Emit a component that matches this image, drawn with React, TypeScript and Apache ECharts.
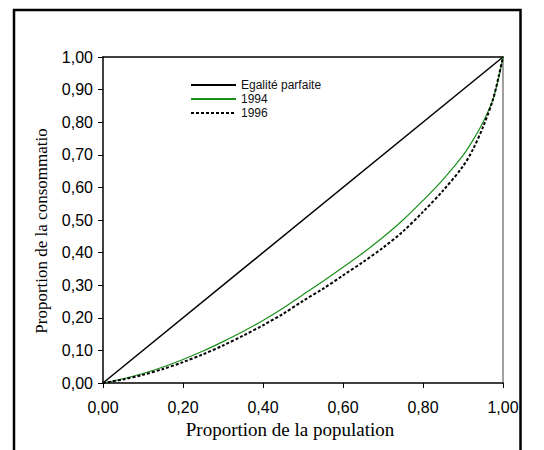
import React, { useEffect, useRef } from "react";
import * as echarts from "echarts";

// Cumulative population share (x axis)
const populationShare = [0, 0.05, 0.1, 0.15, 0.2, 0.25, 0.3, 0.35, 0.4, 0.45, 0.5, 0.55, 0.6, 0.65, 0.7, 0.75, 0.8, 0.85, 0.9, 0.925, 0.95, 0.975, 0.99, 1];
// Lorenz curve, 1994
const share1994 = [0, 0.013, 0.029, 0.049, 0.072, 0.098, 0.127, 0.158, 0.192, 0.229, 0.271, 0.312, 0.355, 0.399, 0.447, 0.5, 0.56, 0.624, 0.698, 0.745, 0.8, 0.87, 0.94, 1];
// Lorenz curve, 1996
const share1996 = [0, 0.011, 0.025, 0.043, 0.064, 0.088, 0.115, 0.145, 0.177, 0.212, 0.252, 0.289, 0.33, 0.371, 0.415, 0.465, 0.525, 0.59, 0.665, 0.717, 0.785, 0.87, 0.945, 1];
// Perfect equality line
const equalityX = [0, 1];
const equalityY = [0, 1];

const seriesNames = ["Egalité parfaite", "1994", "1996"];
const xTicks = [0, 0.2, 0.4, 0.6, 0.8, 1];
const yTicks = [0, 0.1, 0.2, 0.3, 0.4, 0.5, 0.6, 0.7, 0.8, 0.9, 1];
const xAxisTitle = "Proportion de la population";
const yAxisTitle = "Proportion de la consommatio";

const fmt = (v: number) => v.toFixed(2).replace(".", ",");

export default function App() {
  const ref = useRef<HTMLDivElement>(null);
  useEffect(() => {
    if (!ref.current) return;
    const chart = echarts.init(ref.current, null, { renderer: "svg" });
    const pairs = (xs: number[], ys: number[]) => xs.map((x, i) => [x, ys[i]]);
    const sans = "'Liberation Sans', Arial, sans-serif";
    const serif = "'Liberation Serif', 'Times New Roman', serif";
    chart.setOption({
      animation: false,
      backgroundColor: "#ffffff",
      grid: { left: 103, right: 41, top: 57, bottom: 67, containLabel: false },
      legend: {
        orient: "vertical",
        left: 190,
        top: 79,
        padding: 0,
        itemWidth: 45,
        itemHeight: 12,
        itemGap: 2,
        data: seriesNames,
        itemStyle: { opacity: 0 },
        textStyle: { fontFamily: sans, fontSize: 12, color: "#111" },
      },
      xAxis: [
        {
          type: "value",
          min: 0,
          max: 1,
          interval: 0.2,
          position: "bottom",
          axisLine: { show: true, onZero: false, lineStyle: { color: "#000", width: 1.5 } },
          axisTick: { show: true, length: 5, inside: false, lineStyle: { color: "#000" } },
          splitLine: { show: false },
          axisLabel: {
            margin: 16,
            fontFamily: sans,
            fontSize: 16,
            color: "#000",
            formatter: (v: number) => (xTicks.some((t) => Math.abs(t - v) < 1e-6) ? fmt(v) : ""),
          },
          name: xAxisTitle,
          nameLocation: "middle",
          nameGap: 36,
          nameTextStyle: { fontFamily: serif, fontSize: 19, color: "#000", padding: [0, 26, 0, 0] },
        },
        {
          type: "value",
          min: 0,
          max: 1,
          position: "top",
          axisLine: { show: true, onZero: false, lineStyle: { color: "#000", width: 1.5 } },
          axisTick: { show: false },
          axisLabel: { show: false },
          splitLine: { show: false },
        },
      ],
      yAxis: [
        {
          type: "value",
          min: 0,
          max: 1,
          interval: 0.1,
          position: "left",
          axisLine: { show: true, onZero: false, lineStyle: { color: "#000", width: 1.5 } },
          axisTick: { show: true, length: 5, inside: false, lineStyle: { color: "#000" } },
          splitLine: { show: false },
          axisLabel: {
            margin: 10,
            fontFamily: sans,
            fontSize: 16,
            color: "#000",
            formatter: (v: number) => (yTicks.some((t) => Math.abs(t - v) < 1e-6) ? fmt(v) : ""),
          },
          name: yAxisTitle,
          nameLocation: "middle",
          nameGap: 53,
          nameTextStyle: { fontFamily: serif, fontSize: 17, color: "#000", padding: [0, 22, 0, 0] },
        },
        {
          type: "value",
          min: 0,
          max: 1,
          position: "right",
          axisLine: { show: true, onZero: false, lineStyle: { color: "#808080", width: 1.5 } },
          axisTick: { show: false },
          axisLabel: { show: false },
          splitLine: { show: false },
        },
      ],
      series: [
        {
          name: seriesNames[0],
          type: "line",
          data: pairs(equalityX, equalityY),
          symbol: "none",
          lineStyle: { color: "#000", width: 1.5, type: "solid" },
          itemStyle: { color: "#000" },
        },
        {
          name: seriesNames[1],
          type: "line",
          data: pairs(populationShare, share1994),
          symbol: "none",
          smooth: 0.3,
          lineStyle: { color: "#1a8f1a", width: 1.2, type: "solid" },
          itemStyle: { color: "#1a8f1a" },
        },
        {
          name: seriesNames[2],
          type: "line",
          data: pairs(populationShare, share1996),
          symbol: "none",
          smooth: 0.3,
          lineStyle: { color: "#000", width: 2, type: [3, 2] },
          itemStyle: { color: "#000" },
        },
      ],
      graphic: [
        {
          type: "rect",
          silent: true,
          shape: { x: 14, y: 10, width: 506.5, height: 470 },
          style: { fill: "none", stroke: "#000", lineWidth: 2.5 },
        },
      ],
    });
    return () => chart.dispose();
  }, []);
  return <div ref={ref} style={{ position: "fixed", left: 0, top: 0, width: 544, height: 450 }} />;
}
